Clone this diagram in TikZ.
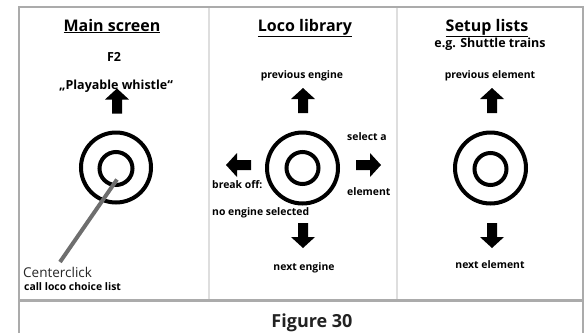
\documentclass[tikz,border=0pt]{standalone}
\usepackage{fontspec}
\setmainfont{Open Sans}
\definecolor{framegray}{HTML}{ABABAB}
\definecolor{divgray}{HTML}{DEDEDE}
\definecolor{pointgray}{HTML}{6E6E6E}
\definecolor{capgray}{HTML}{222222}
\tikzset{
  title/.style={font=\bfseries\fontsize{16}{18}\selectfont, inner sep=0pt, anchor=base},
  mid/.style={font=\bfseries\fontsize{12.5}{14}\selectfont, inner sep=0pt, anchor=base},
  lbl/.style={font=\bfseries\fontsize{10.4}{12}\selectfont, inner sep=0pt, anchor=base},
  ring/.style={draw=black, line width=4pt, circle, inner sep=0pt},
  bigarrow/.pic={\fill[black] (-5,12.5) -- (5,12.5) -- (5,-1.5) -- (12,-1.5) -- (0,-12.5) -- (-12,-1.5) -- (-5,-1.5) -- cycle;}
}
\begin{document}
\begin{tikzpicture}[x=1pt,y=-1pt]
\useasboundingbox (0,0) rectangle (586,333);
% frame
\draw[divgray, line width=2pt] (209,7) -- (209,300) (397,7) -- (397,300);
\draw[framegray, line width=2.5pt] (19,333) -- (19,7) -- (583,7) -- (583,333) (19,300.5) -- (583,300.5);
% column 1
\node[title] (t1) at (112,31) {\underline{Main screen}};
\node[mid] (f2) at (114,61) {F2};
\node[mid] (pw) at (116,89) {„Playable whistle“};
\pic at (117,101) {bigarrow};
\node[ring, minimum size=70pt] (o1) at (116,167.5) {};
\node[ring, minimum size=33pt] (i1) at (116,168.5) {};
\coordinate (p1) at (60,262);
\draw[pointgray, line width=4pt] (117,179.5) -- (p1);
\node[font=\fontsize{13.5}{15}\selectfont, text=black!85, inner sep=0pt, anchor=base west] (cc) at (23,277) {Centerclick};
\node[lbl, anchor=base west] (cl) at (24,290) {call loco choice list};
% column 2
\node[title] (t2) at (305,31) {\underline{Loco library}};
\node[lbl] (pe) at (302,78) {previous engine};
\pic at (303,100.5) {bigarrow};
\node[ring, minimum size=71pt] (o2) at (302.5,168) {};
\node[ring, minimum size=32pt] (i2) at (302.5,168) {};
\pic[rotate=90] at (238.5,165) {bigarrow};
\pic[rotate=-90] at (368.5,165) {bigarrow};
\node[lbl, anchor=base west] (sa) at (347,140) {select a};
\node[lbl, anchor=base west] (el) at (347,195) {element};
\node[lbl, anchor=base west] (bo) at (212,188) {break off:};
\node[lbl, anchor=base west] (ns) at (212,215) {no engine selected};
\pic[rotate=180] at (303,235.5) {bigarrow};
\node[lbl] (ne) at (304,270) {next engine};
% column 3
\node[title] (t3) at (487,31) {\underline{Setup lists}};
\node[mid] (eg) at (490,47) {e.g. Shuttle trains};
\node[lbl] (pv) at (490,78) {previous element};
\pic at (492,100.5) {bigarrow};
\node[ring, minimum size=71pt] (o3) at (490.5,168) {};
\node[ring, minimum size=32pt] (i3) at (490.5,169) {};
\pic[rotate=180] at (492,235.5) {bigarrow};
\node[lbl] (nx) at (490,268) {next element};
% caption
\node[font=\bfseries\fontsize{18}{20}\selectfont, text=capgray, inner sep=0pt, anchor=base] (cap) at (312,327) {Figure 30};
\end{tikzpicture}
\end{document}
